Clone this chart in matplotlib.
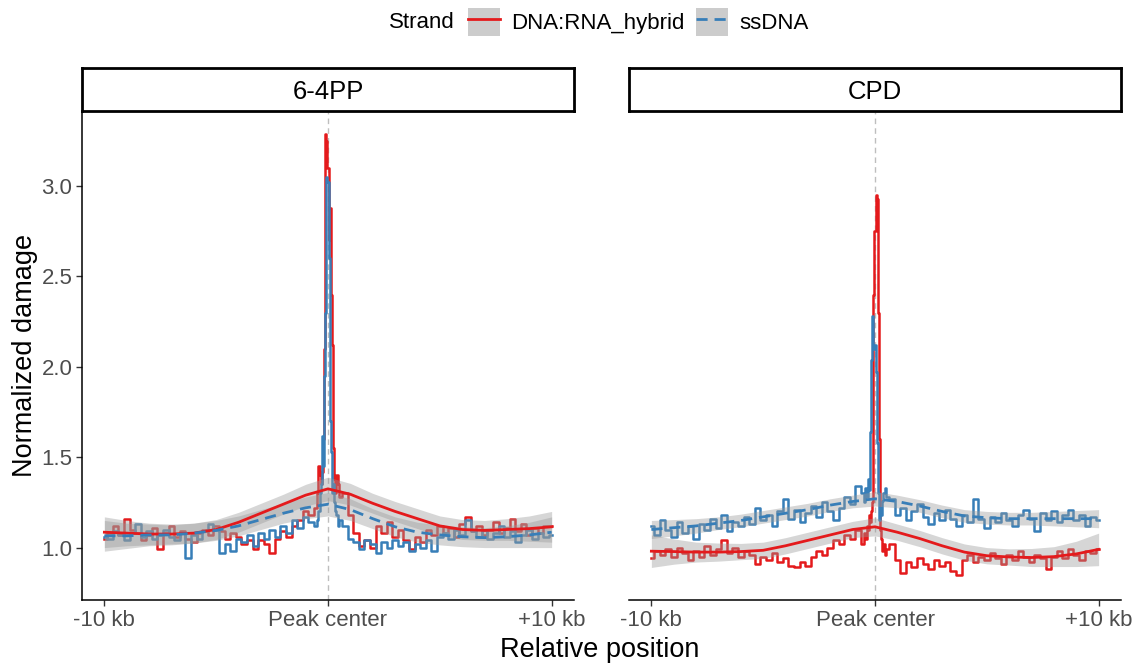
import numpy as np
import matplotlib
matplotlib.use("Agg")
import matplotlib.pyplot as plt
from matplotlib.patches import Patch
from matplotlib.lines import Line2D

plt.rcParams['font.family'] = ['Liberation Sans', 'DejaVu Sans']

# ---------------- data ----------------
panels = ["6-4PP", "CPD"]
strands = ["DNA:RNA_hybrid", "ssDNA"]
colors = {"DNA:RNA_hybrid": "#E41A1C", "ssDNA": "#377EB8"}
styles = {"DNA:RNA_hybrid": "-", "ssDNA": (0, (4, 2.5))}

# bin positions in kb: coarse away from the peak, fine around it
x_left = [-10, -9.75, -9.5, -9.25, -9, -8.75, -8.5, -8.25, -8, -7.75, -7.5, -7.25, -7,
          -6.75, -6.5, -6.25, -6, -5.75, -5.5, -5.25, -5, -4.75, -4.5, -4.25, -4,
          -3.75, -3.5, -3.25, -3, -2.75, -2.5, -2.25, -2, -1.75, -1.5, -1.25, -1, -0.75]
x_mid = [-0.5, -0.45, -0.4, -0.35, -0.3, -0.25, -0.2, -0.15, -0.1, -0.05, 0,
         0.05, 0.1, 0.15, 0.2, 0.25, 0.3, 0.35, 0.4, 0.45, 0.5]
x_right = [0.75, 1, 1.25, 1.5, 1.75, 2, 2.25, 2.5, 2.75, 3, 3.25, 3.5, 3.75, 4, 4.25,
           4.5, 4.75, 5, 5.25, 5.5, 5.75, 6, 6.25, 6.5, 6.75, 7, 7.25, 7.5, 7.75, 8,
           8.25, 8.5, 8.75, 9, 9.25, 9.5, 9.75, 10]
pos = x_left + x_mid + x_right

# 6-4PP raw profiles
pp_hybrid = [1.05, 1.08, 1.12, 1.07, 1.16, 1.10, 1.08, 1.04, 1.07, 1.11, 0.99, 1.08, 1.12,
             1.06, 1.09, 1.05, 1.03, 1.08, 1.10, 1.07, 1.12, 1.09, 1.05, 1.08, 1.06,
             1.02, 1.04, 0.99, 1.04, 1.02, 0.97, 1.05, 1.09, 1.06, 1.12, 1.15, 1.20, 1.18,
             1.22, 1.30, 1.45, 1.40, 1.35, 1.42, 1.60, 2.10, 3.29, 3.25, 3.10,
             2.70, 2.88, 2.40, 2.12, 1.55, 1.38, 1.30, 1.40, 1.35, 1.28,
             1.30, 1.18, 1.08, 1.01, 1.04, 1.00, 1.12, 1.08, 1.14, 1.06, 1.10, 1.04, 0.99,
             1.06, 1.03, 1.10, 1.07, 1.12, 1.08, 1.11, 1.06, 1.13, 1.17, 1.09, 1.12, 1.07,
             1.10, 1.14, 1.08, 1.11, 1.16, 1.09, 1.13, 1.07, 1.11, 1.08, 1.12, 1.12]
pp_ssdna = [1.06, 1.05, 1.09, 1.07, 1.04, 1.08, 1.13, 1.06, 1.09, 1.05, 1.07, 1.10, 1.06,
            1.04, 1.08, 0.94, 1.07, 1.05, 1.09, 1.13, 1.10, 0.97, 1.02, 0.98, 1.05,
            1.03, 1.07, 1.01, 1.08, 1.05, 1.10, 1.06, 1.12, 1.08, 1.15, 1.11, 1.17, 1.14,
            1.12, 1.15, 1.20, 1.30, 1.35, 1.62, 1.45, 1.95, 2.30, 3.05, 3.02,
            2.60, 1.70, 1.53, 1.30, 1.35, 1.25, 1.20, 1.18, 1.12, 1.15,
            1.12, 1.05, 1.03, 0.99, 1.04, 1.02, 0.97, 1.03, 1.00, 1.04, 1.01, 1.03, 0.98,
            1.02, 1.00, 1.04, 0.98, 1.06, 1.08, 1.05, 1.10, 1.07, 1.15, 1.09, 1.06, 1.10,
            1.05, 1.08, 1.12, 1.06, 1.09, 1.03, 1.07, 1.10, 1.05, 1.08, 1.06, 1.07]

# CPD raw profiles
cpd_hybrid = [0.94, 0.98, 0.96, 0.99, 0.95, 1.00, 0.97, 0.93, 0.98, 0.95, 1.01, 0.96, 0.99,
              1.04, 0.97, 1.00, 0.95, 0.98, 0.96, 0.91, 0.95, 0.93, 0.97, 0.92, 0.94,
              0.90, 0.89, 0.92, 0.90, 0.95, 0.98, 0.96, 1.00, 1.04, 1.02, 1.07, 1.05, 1.10,
              1.02, 1.08, 1.05, 1.12, 1.10, 1.18, 1.14, 1.20, 1.25, 2.40, 2.75,
              2.95, 2.93, 2.30, 1.60, 1.10, 1.05, 0.98, 1.02, 0.96, 0.99,
              1.02, 0.93, 0.86, 0.92, 0.89, 0.94, 0.91, 0.88, 0.93, 0.90, 0.92, 0.87, 0.85,
              0.93, 0.96, 0.92, 0.95, 0.93, 0.97, 0.94, 0.91, 0.96, 0.93, 0.98, 0.95, 0.92,
              0.96, 0.94, 0.88, 0.95, 0.98, 0.94, 0.99, 0.96, 0.93, 0.98, 0.97, 0.99]
cpd_ssdna = [1.12, 1.07, 1.15, 1.10, 1.06, 1.14, 1.08, 1.12, 1.05, 1.13, 1.10, 1.16, 1.11,
             1.18, 1.09, 1.14, 1.12, 1.17, 1.13, 1.22, 1.15, 1.18, 1.12, 1.20, 1.27,
             1.16, 1.21, 1.14, 1.19, 1.23, 1.17, 1.25, 1.20, 1.15, 1.22, 1.28, 1.24, 1.34,
             1.30, 1.25, 1.33, 1.28, 1.38, 1.32, 1.64, 2.04, 2.28, 2.10, 2.12,
             1.97, 1.58, 1.30, 1.15, 1.22, 1.18, 1.26, 1.30, 1.33, 1.28,
             1.27, 1.18, 1.22, 1.15, 1.20, 1.24, 1.17, 1.13, 1.19, 1.15, 1.21, 1.16, 1.12,
             1.18, 1.14, 1.27, 1.16, 1.11, 1.17, 1.14, 1.19, 1.15, 1.12, 1.18, 1.21, 1.16,
             1.09, 1.19, 1.15, 1.20, 1.14, 1.18, 1.21, 1.15, 1.18, 1.12, 1.17, 1.15]

# loess fits (every 1 kb) and half-width of the confidence band
x_fit = [-10, -9, -8, -7, -6, -5, -4, -3, -2, -1, 0, 1, 2, 3, 4, 5, 6, 7, 8, 9, 10]
pp_hybrid_fit = [1.085, 1.08, 1.075, 1.075, 1.08, 1.10, 1.14, 1.19, 1.24, 1.29, 1.325,
                 1.295, 1.245, 1.20, 1.16, 1.12, 1.10, 1.095, 1.10, 1.105, 1.115]
pp_hybrid_se = [0.085, 0.07, 0.06, 0.055, 0.055, 0.055, 0.055, 0.055, 0.055, 0.06, 0.065,
                0.06, 0.055, 0.055, 0.055, 0.055, 0.055, 0.055, 0.06, 0.07, 0.085]
pp_ssdna_fit = [1.065, 1.065, 1.07, 1.07, 1.08, 1.095, 1.12, 1.155, 1.19, 1.22, 1.24,
                1.21, 1.16, 1.115, 1.085, 1.07, 1.06, 1.055, 1.06, 1.07, 1.085]
pp_ssdna_se = [0.085, 0.07, 0.06, 0.055, 0.055, 0.055, 0.055, 0.055, 0.055, 0.06, 0.065,
               0.06, 0.055, 0.055, 0.055, 0.055, 0.055, 0.055, 0.06, 0.07, 0.085]
cpd_hybrid_fit = [0.98, 0.978, 0.975, 0.975, 0.978, 0.985, 1.01, 1.04, 1.07, 1.10, 1.115,
                  1.085, 1.05, 1.01, 0.975, 0.955, 0.948, 0.945, 0.95, 0.965, 0.99]
cpd_hybrid_se = [0.09, 0.07, 0.055, 0.05, 0.045, 0.045, 0.045, 0.045, 0.045, 0.045, 0.05,
                 0.045, 0.045, 0.045, 0.045, 0.045, 0.045, 0.05, 0.055, 0.07, 0.09]
cpd_ssdna_fit = [1.10, 1.11, 1.12, 1.135, 1.15, 1.17, 1.19, 1.21, 1.235, 1.255, 1.27,
                 1.255, 1.23, 1.20, 1.175, 1.165, 1.16, 1.16, 1.16, 1.16, 1.16]
cpd_ssdna_se = [0.05, 0.045, 0.04, 0.035, 0.035, 0.035, 0.035, 0.035, 0.035, 0.035, 0.04,
                0.035, 0.035, 0.035, 0.035, 0.035, 0.035, 0.035, 0.04, 0.045, 0.05]

raw = {("6-4PP", "DNA:RNA_hybrid"): pp_hybrid, ("6-4PP", "ssDNA"): pp_ssdna,
       ("CPD", "DNA:RNA_hybrid"): cpd_hybrid, ("CPD", "ssDNA"): cpd_ssdna}
fits = {("6-4PP", "DNA:RNA_hybrid"): (pp_hybrid_fit, pp_hybrid_se),
        ("6-4PP", "ssDNA"): (pp_ssdna_fit, pp_ssdna_se),
        ("CPD", "DNA:RNA_hybrid"): (cpd_hybrid_fit, cpd_hybrid_se),
        ("CPD", "ssDNA"): (cpd_ssdna_fit, cpd_ssdna_se)}

xticks = [-10, 0, 10]
xticklabels = ["-10 kb", "Peak center", "+10 kb"]
yticks = [1.0, 1.5, 2.0, 2.5, 3.0]

# ---------------- figure ----------------
W, H = 1141, 666
fig = plt.figure(figsize=(W / 100, H / 100), dpi=100)

panel_px = [(82, 574), (629, 1121)]
top_px, bot_px = 112, 600
strip_top = 68

for i, (panel, (l, r)) in enumerate(zip(panels, panel_px)):
    ax = fig.add_axes([l / W, 1 - bot_px / H, (r - l) / W, (bot_px - top_px) / H])
    ax.axvline(0, color="#BEBEBE", lw=1.0, ls=(0, (4, 3)), zorder=1)
    for s in strands:
        ax.plot(pos, raw[(panel, s)], color=colors[s], lw=1.8, drawstyle="steps-mid", zorder=2)
    for s in strands:
        fit, se = fits[(panel, s)]
        fit = np.array(fit)
        se = np.array(se)
        ax.fill_between(x_fit, fit - se, fit + se, color="#999999", alpha=0.4, lw=0, zorder=3)
    for s in strands:
        fit, se = fits[(panel, s)]
        ax.plot(x_fit, fit, color=colors[s], lw=2.0, ls=styles[s], zorder=4)

    ax.set_xlim(-11, 11)
    ax.set_ylim(0.71, 3.41)
    ax.set_xticks(xticks)
    ax.set_xticklabels(xticklabels)
    ax.set_yticks(yticks)
    ax.set_yticklabels([f"{v:.1f}" for v in yticks])
    for sp in ["top", "right"]:
        ax.spines[sp].set_visible(False)
    ax.spines["bottom"].set_linewidth(1.1)
    ax.spines["left"].set_linewidth(1.1)
    ax.tick_params(colors="#333333", labelcolor="#4D4D4D", labelsize=16, length=4, width=1,
                   pad=3)
    if i == 1:
        ax.spines["left"].set_visible(False)
        ax.tick_params(axis="y", left=False, labelleft=False)

    # facet strip
    sax = fig.add_axes([l / W, 1 - (top_px - 1) / H, (r - l) / W, (top_px - 1 - strip_top) / H])
    sax.set_xticks([])
    sax.set_yticks([])
    for sp in sax.spines.values():
        sp.set_linewidth(2)
        sp.set_color("black")
    sax.text(0.5, 0.45, panel, ha="center", va="center", fontsize=18.5, transform=sax.transAxes)

fig.text(600 / W, 1 - 650 / H, "Relative position", ha="center", va="center", fontsize=19.5)
fig.text(25 / W, 1 - 355 / H, "Normalized damage", ha="center", va="center",
         rotation=90, fontsize=19.5)

# legend on top
fig.text(389 / W, 1 - 23 / H, "Strand", ha="left", va="center", fontsize=16)
handles = []
for s in strands:
    handles.append((Patch(facecolor="#CCCCCC", edgecolor="none"),
                    Line2D([], [], color=colors[s], lw=2.0, ls=styles[s])))
fig.legend(handles, strands, loc="center left", bbox_to_anchor=(457 / W, 1 - 22 / H),
           ncol=2, frameon=False, fontsize=16, handlelength=1.45, handleheight=1.6,
           handletextpad=0.5, columnspacing=0.5, borderpad=0)

fig.savefig("out.png", dpi=100)
